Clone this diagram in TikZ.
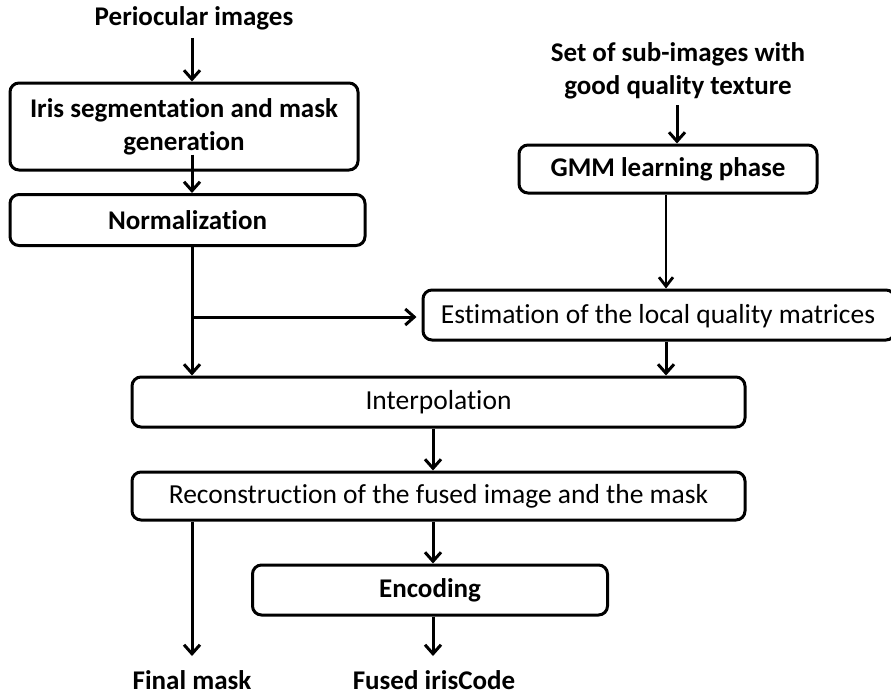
\documentclass[tikz,border=0pt]{standalone}
\usepackage{fontspec}
\setmainfont{Carlito}[Ligatures={NoCommon}]
\usetikzlibrary{arrows.meta,calc}
\begin{document}
\begin{tikzpicture}[x=1pt,y=-1pt,
  box/.style={draw,line width=3pt,rounded corners=9pt,inner sep=0pt,align=center},
  bt/.style={font=\bfseries\fontsize{27}{33}\selectfont},
  rt/.style={font=\fontsize{27.5}{30}\selectfont},
  lbl/.style={inner sep=0pt,align=center},
  arr/.style={line width=3pt,-{Straight Barb[length=9pt,width=16pt,line width=3pt]}},
  thinarr/.style={line width=2pt,-{Straight Barb[length=9pt,width=14pt,line width=2.8pt]}},
  ln/.style={line width=3pt}]
\useasboundingbox (0,0) rectangle (891,697);
% columns
\coordinate (cL) at (192,0);
\coordinate (cM) at (433,0);
\coordinate (cR) at (666,0);
\coordinate (cS) at (677,0);
% texts
\node[lbl,bt] (peri) at (194,18) {Periocular images};
\node[lbl,bt] (sub) at (678,71) {Set of sub-images with\\good quality texture};
\node[lbl,bt,anchor=base] (fm) at (192,689) {Final mask};
\node[lbl,bt,anchor=base] (fic) at (434,689) {Fused irisCode};
% boxes
\node[box,bt,minimum width=348pt,minimum height=87pt] (b1) at (184,126.5) {Iris segmentation and mask\\generation};
\node[box,bt,minimum width=355pt,minimum height=51pt] (b2) at (187.5,220) {Normalization};
\node[box,bt,minimum width=298pt,minimum height=48pt] (gmm) at (668,169) {GMM learning phase};
\node[box,minimum width=472pt,minimum height=50pt] (est) at (659,315) {};
\node[rt,lbl] (estt) at (658,316) {Estimation of the local quality matrices};
\node[box,rt,minimum width=613pt,minimum height=50pt] (interp) at (438.5,402) {Interpolation};
\node[box,rt,minimum width=613pt,minimum height=48pt] (rec) at (438.5,496) {Reconstruction of the fused image and the mask};
\node[box,bt,minimum width=355pt,minimum height=50pt] (enc) at (430,590) {Encoding};
% connectors
\draw[arr] (peri.south -| cL) ++(0,8) -- (b1.north -| cL);
\draw[arr] ($(b1.south -| cL)+(0,-17)$) -- (b2.north -| cL);
\draw[arr] (b2.south -| cL) -- (interp.north -| cL);
\coordinate (br) at (192,317);
\draw[arr] (br) -- ($(est.west)+(-5,2)$);
\draw[arr] (sub.south -| cS) ++(0,6) -- (gmm.north -| cS);
\draw[thinarr] (gmm.south -| cR) -- (est.north -| cR);
\draw[arr] (est.south -| cR) -- (interp.north -| cR);
\draw[arr] (interp.south -| cM) -- (rec.north -| cM);
\draw[arr] (rec.south -| cL) -- (192,656);
\draw[arr] (rec.south -| cM) -- (enc.north -| cM);
\draw[arr] (enc.south -| cM) -- (433,656);
\end{tikzpicture}
\end{document}
